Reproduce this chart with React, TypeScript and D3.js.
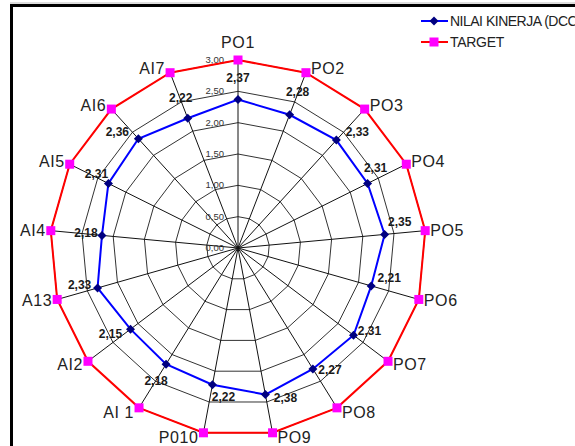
import React from "react";
import * as d3 from "d3";

const categories = ["PO1","PO2","PO3","PO4","PO5","PO6","PO7","PO8","PO9","P010","AI 1","AI2","A13","AI4","AI5","AI6","AI7"];
const kinerja = [2.37,2.28,2.33,2.31,2.35,2.21,2.31,2.27,2.38,2.22,2.18,2.15,2.33,2.18,2.31,2.36,2.22];
const target = [3,3,3,3,3,3,3,3,3,3,3,3,3,3,3,3,3];
const ticks = [0,0.5,1,1.5,2,2.5,3];
const seriesNames = ["NILAI KINERJA (DCC)", "TARGET"];
// label nudges (style) for data labels
const labelDx = [0,8,21,8,15,18,16,17,20,11,-10,-20,-18,-16,-12,-21,-7];
const labelDy = [-22,-23,-9,-16,-13,-8,-5,1,3,12,16,4,-3,-3,-10,-7,-21];

const W = 575, H = 446;
const cx = 238, cy = 248, R = 188;

export default function App() {
  const n = categories.length;
  const r = d3.scaleLinear().domain([0, 3]).range([0, R]);
  const ang = (i: number) => (i * 2 * Math.PI) / n;
  const pt = (i: number, v: number): [number, number] => [cx + r(v) * Math.sin(ang(i)), cy - r(v) * Math.cos(ang(i))];
  const lineGen = d3.line<[number, number]>().curve(d3.curveLinearClosed);
  const fmt = (v: number) => d3.format(".2f")(v).replace(".", ",");
  const font = "'Liberation Sans', Arial, sans-serif";

  return (
    <svg width={W} height={H} style={{ position: "absolute", left: 0, top: 0, background: "#fff" }} fontFamily={font}>
      <rect x={0} y={0} width={W} height={H} fill="#fff" />
      <line x1={10} y1={3} x2={W} y2={3} stroke="#bbb" strokeWidth={1} />
      <rect x={11.5} y={5.5} width={W + 20} height={H + 20} fill="none" stroke="#000" strokeWidth={3} />
      {/* rings */}
      {ticks.filter(t => t > 0).map(t => (
        <path key={"ring" + t} d={lineGen(categories.map((_, i) => pt(i, t))) || ""} fill="none" stroke="#333" strokeWidth={1} />
      ))}
      {/* spokes */}
      {categories.map((_, i) => {
        const [x, y] = pt(i, 3);
        return <line key={"sp" + i} x1={cx} y1={cy} x2={x} y2={y} stroke="#111" strokeWidth={1} />;
      })}
      {/* tick labels */}
      {ticks.map(t => (
        <text key={"tk" + t} x={cx - 14} y={cy - r(t) + 3} fontSize={9.5} textAnchor="end" fill="#333">{fmt(t)}</text>
      ))}
      {/* target */}
      <path d={lineGen(target.map((v, i) => pt(i, v))) || ""} fill="none" stroke="#ff0000" strokeWidth={2} />
      {target.map((v, i) => {
        const [x, y] = pt(i, v);
        return <rect key={"tm" + i} x={x - 4.5} y={y - 4.5} width={9} height={9} fill="#ff00ff" />;
      })}
      {/* kinerja */}
      <path d={lineGen(kinerja.map((v, i) => pt(i, v))) || ""} fill="none" stroke="#0000ff" strokeWidth={2} />
      {kinerja.map((v, i) => {
        const [x, y] = pt(i, v);
        return <path key={"km" + i} d={`M${x},${y - 4.5}L${x + 4.5},${y}L${x},${y + 4.5}L${x - 4.5},${y}Z`} fill="#000080" />;
      })}
      {kinerja.map((v, i) => {
        const [x, y] = pt(i, v);
        return (
          <text key={"kl" + i} x={x + labelDx[i]} y={y + labelDy[i] + 4.5} fontSize={12} fontWeight="bold" textAnchor="middle" fill="#1a1a1a">{fmt(v)}</text>
        );
      })}
      {/* category labels */}
      {categories.map((c, i) => {
        const [x, y] = pt(i, 3);
        const s = Math.sin(ang(i)), co = Math.cos(ang(i));
        if (i === 0) {
          return <text key={"cl" + i} x={x} y={y - 12} fontSize={16} letterSpacing={0.6} textAnchor="middle" fill="#222">{c}</text>;
        }
        const anchor = s > 0 ? "start" : "end";
        const tx = s > 0 ? x + 5 : x - 5;
        const ty = y - 5 * co + 5.5;
        return <text key={"cl" + i} x={tx} y={ty} fontSize={16} letterSpacing={0.6} textAnchor={anchor} fill="#222">{c}</text>;
      })}
      {/* legend */}
      <g>
        <line x1={421} y1={21} x2={448} y2={21} stroke="#0000ff" strokeWidth={2} />
        <path d={`M434,16.5L438.5,21L434,25.5L429.5,21Z`} fill="#000080" />
        <text x={450} y={26} fontSize={14} letterSpacing={-0.5} fill="#222">{seriesNames[0]}</text>
        <line x1={421} y1={42} x2={448} y2={42} stroke="#ff0000" strokeWidth={2} />
        <rect x={429.5} y={37.5} width={9} height={9} fill="#ff00ff" />
        <text x={450} y={47} fontSize={14} letterSpacing={-0.3} fill="#222">{seriesNames[1]}</text>
      </g>
    </svg>
  );
}
